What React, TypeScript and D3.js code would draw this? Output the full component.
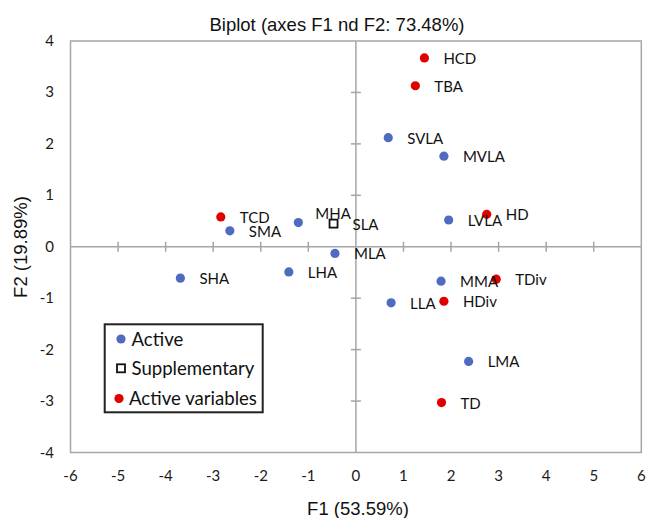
import React from "react";
import * as d3 from "d3";

const activeNames = ["SVLA", "MVLA", "SMA", "MHA", "LVLA", "MLA", "SHA", "LHA", "MMA", "LLA", "LMA"];
const activeF1 = [0.68, 1.85, -2.65, -1.21, 1.95, -0.44, -3.69, -1.41, 1.79, 0.74, 2.37];
const activeF2 = [2.12, 1.76, 0.31, 0.47, 0.52, -0.13, -0.61, -0.49, -0.67, -1.09, -2.23];

const suppNames = ["SLA"];
const suppF1 = [-0.47];
const suppF2 = [0.45];

const varNames = ["HCD", "TBA", "TCD", "HD", "TDiv", "HDiv", "TD"];
const varF1 = [1.44, 1.25, -2.84, 2.75, 2.95, 1.85, 1.8];
const varF2 = [3.67, 3.13, 0.58, 0.63, -0.63, -1.06, -3.03];

const xTicks = [-6, -5, -4, -3, -2, -1, 0, 1, 2, 3, 4, 5, 6];
const yTicks = [-4, -3, -2, -1, 0, 1, 2, 3, 4];

const legendItems = ["Active", "Supplementary", "Active variables"];

const titleText = "Biplot (axes F1 nd F2: 73.48%)";
const xTitle = "F1 (53.59%)";
const yTitle = "F2 (19.89%)";

const W = 646;
const H = 518;
const BLUE = "#4F6BC0";
const RED = "#E00000";
const GRAY = "#A6A6A6";
const LABEL_FONT = "Lato, 'Open Sans', sans-serif";
const TITLE_FONT = "'Liberation Sans', Arial, sans-serif";

// label offset overrides (styling only)
const labelOffset: Record<string, [number, number]> = {
  MHA: [17, -4],
};

export default function App() {
  const x = d3.scaleLinear().domain([-6, 6]).range([70.5, 641.3]);
  const y = d3.scaleLinear().domain([-4, 4]).range([452.5, 41]);
  const x0 = x(0);
  const y0 = y(0);

  const active = activeNames.map((n, i) => ({ n, x: activeF1[i], y: activeF2[i] }));
  const supp = suppNames.map((n, i) => ({ n, x: suppF1[i], y: suppF2[i] }));
  const vars = varNames.map((n, i) => ({ n, x: varF1[i], y: varF2[i] }));
  const all = [...active, ...supp, ...vars];

  const off = (n: string) => labelOffset[n] || [19, 6];

  return (
    <svg
      width={W}
      height={H}
      style={{ position: "absolute", left: 0, top: 0, background: "#fff" }}
    >
      <rect x={0} y={0} width={W} height={H} fill="#fff" />
      <text x={337} y={31} textAnchor="middle" fontFamily={TITLE_FONT} fontSize={18.5} fill="#111">
        {titleText}
      </text>

      {/* plot frame */}
      <rect
        x={x(-6)}
        y={y(4)}
        width={x(6) - x(-6)}
        height={y(-4) - y(4)}
        fill="#fff"
        stroke={GRAY}
        strokeWidth={1.5}
      />
      {/* zero axes */}
      <line x1={x(-6)} x2={x(6)} y1={y0} y2={y0} stroke={GRAY} strokeWidth={1.5} />
      <line x1={x0} x2={x0} y1={y(4)} y2={y(-4)} stroke={GRAY} strokeWidth={1.5} />
      {xTicks.filter((t) => t > -6 && t < 6 && t !== 0).map((t) => (
        <line key={"xt" + t} x1={x(t)} x2={x(t)} y1={y0 - 5} y2={y0 + 5} stroke={GRAY} strokeWidth={1.5} />
      ))}
      {yTicks.filter((t) => t > -4 && t < 4 && t !== 0).map((t) => (
        <line key={"yt" + t} x1={x0 - 5} x2={x0 + 5} y1={y(t)} y2={y(t)} stroke={GRAY} strokeWidth={1.5} />
      ))}

      {/* tick labels */}
      {xTicks.map((t) => (
        <text key={"xl" + t} x={x(t)} y={481} textAnchor="middle" fontFamily={LABEL_FONT} fontSize={15} fill="#1a1a1a">
          {t}
        </text>
      ))}
      {yTicks.map((t) => (
        <text key={"yl" + t} x={54} y={y(t) + 5} textAnchor="end" fontFamily={LABEL_FONT} fontSize={15} fill="#1a1a1a">
          {t}
        </text>
      ))}

      {/* axis titles */}
      <text x={358} y={515} textAnchor="middle" fontFamily={TITLE_FONT} fontSize={18.5} fill="#111">
        {xTitle}
      </text>
      <text
        transform={`translate(27,${247}) rotate(-90)`}
        textAnchor="middle"
        fontFamily={TITLE_FONT}
        fontSize={18.5}
        fill="#111"
      >
        {yTitle}
      </text>

      {/* points */}
      {active.map((d) => (
        <circle key={"a" + d.n} cx={x(d.x)} cy={y(d.y)} r={4.6} fill={BLUE} />
      ))}
      {supp.map((d) => (
        <rect key={"s" + d.n} x={x(d.x) - 4} y={y(d.y) - 4} width={8} height={8} fill="#fff" stroke="#111" strokeWidth={1.8} />
      ))}
      {vars.map((d) => (
        <circle key={"v" + d.n} cx={x(d.x)} cy={y(d.y)} r={4.6} fill={RED} />
      ))}

      {/* labels */}
      {all.map((d) => {
        const [dx, dy] = off(d.n);
        return (
          <text key={"l" + d.n} x={x(d.x) + dx} y={y(d.y) + dy} fontFamily={LABEL_FONT} fontSize={15} fill="#111">
            {d.n}
          </text>
        );
      })}

      {/* legend */}
      <rect x={104.7} y={324.3} width={158} height={88} fill="#fff" stroke="#222" strokeWidth={2} />
      <circle cx={121} cy={339} r={4.6} fill={BLUE} />
      <rect x={117} y={364.3} width={8} height={8} fill="#fff" stroke="#111" strokeWidth={1.8} />
      <circle cx={119} cy={398.5} r={4.6} fill={RED} />
      {legendItems.map((t, i) => (
        <text
          key={t}
          x={i === 2 ? 129 : 131.5}
          y={[339, 368.3, 398.5][i] + 6.5}
          fontFamily={LABEL_FONT}
          fontSize={18.6}
          fill="#111"
        >
          {t}
        </text>
      ))}
    </svg>
  );
}
